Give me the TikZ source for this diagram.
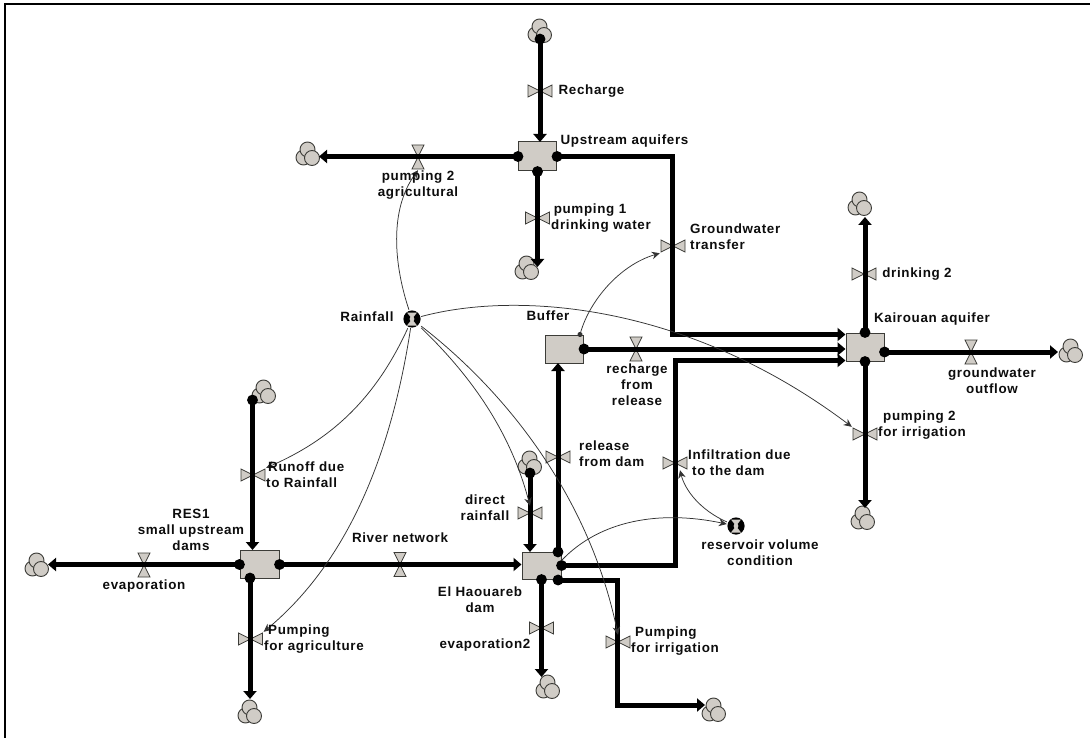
\documentclass[tikz,border=0pt]{standalone}
\usepackage{fontspec}
\setmainfont[LetterSpace=5]{Liberation Sans}
\usetikzlibrary{arrows.meta,calc}
\definecolor{stockfill}{RGB}{208,204,198}
\definecolor{edgeg}{RGB}{60,60,56}
\tikzset{
 x=1pt,y=-1pt,
 every node/.style={font=\fontsize{13.4}{16}\selectfont\bfseries,align=center,inner sep=0pt,text=black!95},
 stock/.style={draw=edgeg,fill=stockfill,line width=1pt,minimum width=38pt,minimum height=28pt},
 cloudn/.style={minimum size=30pt,path picture={
   \coordinate (c) at (path picture bounding box.center);
   \filldraw[draw=edgeg,fill=stockfill,line width=.9pt] ($(c)+(-4.5,3.5)$) circle[radius=7.5];
   \filldraw[draw=edgeg,fill=stockfill,line width=.9pt] ($(c)+(-.5,-4.5)$) circle[radius=7.5];
   \filldraw[draw=edgeg,fill=stockfill,line width=.9pt] ($(c)+(4,4)$) circle[radius=7.5];
 }},
 valveh/.style={minimum width=26pt,minimum height=14pt,path picture={
   \coordinate (c) at (path picture bounding box.center);
   \filldraw[draw=edgeg,fill=stockfill,line width=.8pt] ($(c)+(-12,-6)$)--($(c)+(12,6)$)--($(c)+(12,-6)$)--($(c)+(-12,6)$)--cycle;
 }},
 valvev/.style={minimum width=14pt,minimum height=26pt,path picture={
   \coordinate (c) at (path picture bounding box.center);
   \filldraw[draw=edgeg,fill=stockfill,line width=.8pt] ($(c)+(-6,-12)$)--($(c)+(6,12)$)--($(c)+(-6,12)$)--($(c)+(6,-12)$)--cycle;
 }},
 conv/.style={minimum size=18pt,path picture={
   \coordinate (c) at (path picture bounding box.center);
   \fill[black] (c) circle[radius=8.6];
   \fill[stockfill] ($(c)+(-5,-6.5)$)--($(c)+(5,-6.5)$)--(c)--cycle;
   \fill[stockfill] ($(c)+(-5,6.5)$)--($(c)+(5,6.5)$)--(c)--cycle;
   \fill[stockfill] (c) circle[radius=2.4];
 }},
 flow/.style={line width=5pt,black,line join=miter,{Circle[length=10.5pt,width=10.5pt]}-{Triangle[length=8pt,width=13pt]},shorten <=-5.2pt},
 link/.style={line width=.75pt,black!80,-{Stealth[length=8pt,width=7.5pt]}},
 linkdot/.style={line width=.75pt,black!80,{Circle[length=5pt,width=5pt]}-{Stealth[length=8pt,width=7.5pt]},shorten <=-2.5pt},
}
\begin{document}
\begin{tikzpicture}
\useasboundingbox (0,0) rectangle (1090,738);
\fill[white] (0,0) rectangle (1090,738);
\draw[line width=2.2pt,black] (5.2,738)--(5.2,4.2)--(1090,4.2);
% clouds
\node[cloudn] (cRech) at (540,31) {};
\node[cloudn] (cPump2) at (308,154) {};
\node[cloudn] (cPump1) at (527,268) {};
\node[cloudn] (cDrink) at (860,204) {};
\node[cloudn] (cOut) at (1071,351) {};
\node[cloudn] (cIrr) at (863,518) {};
\node[cloudn] (cDirect) at (530,463) {};
\node[cloudn] (cPIrr) at (714,710) {};
\node[cloudn] (cEvap2) at (548,687) {};
\node[cloudn] (cAgri) at (250,712) {};
\node[cloudn] (cRun) at (264,392) {};
\node[cloudn] (cEvap) at (37,565) {};
% valves
\node[valveh] (vRech) at (540,91) {};
\node[valvev] (vPump2) at (418,157) {};
\node[valveh] (vPump1) at (537.5,218) {};
\node[valveh] (vGT) at (673,246) {};
\node[valveh] (vDrink) at (864,274) {};
\node[valvev] (vRel) at (636,349) {};
\node[valvev] (vOut) at (971,352) {};
\node[valveh] (vIrr) at (865,434) {};
\node[valveh] (vDam) at (558,457) {};
\node[valveh] (vInf) at (675,463) {};
\node[valveh] (vDirect) at (530,513) {};
\node[valveh] (vEvap2) at (541.5,628) {};
\node[valveh] (vPIrr) at (618,642) {};
\node[valvev] (vRiver) at (400,564.5) {};
\node[valveh] (vRun) at (253,475) {};
\node[valveh] (vAgri) at (250.5,639) {};
\node[valvev] (vEvap) at (144,565) {};
% stocks
\node[stock,minimum height=29pt] (up) at (537.5,156.5) {};
\node[stock] (buf) at (564.5,349) {};
\node[stock] (kai) at (865,347) {};
\node[stock,minimum width=39pt] (res) at (259.5,564.5) {};
\node[stock,minimum width=39pt,minimum height=27pt] (dam) at (541.5,565.5) {};
% auxiliary bends
\coordinate (b1a) at (672,156.5);
\coordinate (b1b) at (672,334.5);
\coordinate (b2a) at (675,565.5);
\coordinate (b2b) at (675,360.5);
\coordinate (b3a) at (617,580);
\coordinate (b3b) at (617,705);
% flows
\draw[flow] (540,39)--(540,142);
\draw[flow] (up.west)--(319,156.5);
\draw[flow] (up.south)--(537.5,267);
\draw[flow] (up.east)--(b1a)--(b1b)--(kai.west|-b1b);
\draw[flow] (buf.east)--(buf.east-|kai.west);
\draw[flow] (dam.east)--(b2a)--(b2b)--(kai.west|-b2b);
\draw[flow] (558,552)--(558,363);
\draw[flow] (kai.north)--(865,217);
\draw[flow] ($(kai.east)+(0,5)$)--(1058,352);
\draw[flow] (kai.south)--(865,508);
\draw[flow] (530,473)--(530,552);
\draw[flow] (dam.south)--(541.5,677);
\draw[flow] (558,580)--(b3a)--(b3b)--(705,705);
\draw[flow] (res.east)--(res.east-|dam.west);
\draw[flow] (252.5,400)--(252.5,550);
\draw[flow] (250,578)--(250,699);
\draw[flow] (res.west)--(48,564.5);
% converters
\node[conv] (rain) at (412,319) {};
\node[conv] (resv) at (736,526) {};
% links
\draw[link] (rain) .. controls (394,265) and (389,210) .. (vPump2.south);
\draw[link] (rain) .. controls (520,290) and (690,305) .. (vIrr.north west);
\draw[link] (rain) .. controls (375,400) and (330,440) .. (vRun.north east);
\draw[link] (rain) .. controls (392,450) and (350,560) .. (vAgri.north east);
\draw[link] (rain) .. controls (470,375) and (510,430) .. (vDirect.north);
\draw[link] (rain) .. controls (510,395) and (590,500) .. (vPIrr.north);
\draw[linkdot] ($(buf.north east)+(-4,0)$) .. controls (590,300) and (620,265) .. (vGT.south west);
\draw[link] ($(dam.east)+(0,-5)$) .. controls (600,520) and (660,510) .. (resv);
\draw[link] (resv) .. controls (700,510) and (685,490) .. ($(vInf.south)+(5,0)$);
% labels
\node (t1) at (591.5,91) {Recharge};
\node (t2) at (624.5,141) {Upstream aquifers};
\node (t3) at (418,185) {pumping 2\\agricultural};
\node (t4) at (601,218.5) {pumping 1\hspace*{22pt}\\drinking water};
\node[anchor=west,align=left] (t5) at (690,237) {Groundwater\\transfer};
\node (t6) at (917,274) {drinking 2};
\node (t7) at (367,317) {Rainfall};
\node (t8) at (548,316) {Buffer};
\node (t9) at (932,319) {Kairouan aquifer};
\node (t10) at (637,385) {recharge\\from\\release};
\node (t11) at (992,381) {groundwater\\outflow};
\node[anchor=west,align=left] (t12) at (878,425) {\hspace*{5pt}pumping 2\\for irrigation};
\node[anchor=west,align=left] (t13) at (579,454) {release\\from dam};
\node[anchor=west,align=left] (t14) at (688,463) {Infiltration due\\\hspace*{4pt}to the dam};
\node[anchor=west,align=left] (t15) at (266,475) {\hspace*{2pt}Runoff due\\to Rainfall};
\node (t16) at (485,508) {direct\\rainfall};
\node (t17) at (760,553) {reservoir volume\\condition};
\node (t18) at (400,538) {River network};
\node (t20) at (191,530) {RES1\\small upstream\\dams};
\node (t21) at (144,586) {evaporation};
\node (t22) at (480,600) {El Haouareb\\dam};
\node (t23) at (485,645) {evaporation2};
\node[anchor=west,align=left] (t24) at (631,641.5) {\hspace*{4pt}Pumping\\for irrigation};
\node[anchor=west,align=left] (t25) at (264,639) {\hspace*{4pt}Pumping\\for agriculture};
\end{tikzpicture}
\end{document}
